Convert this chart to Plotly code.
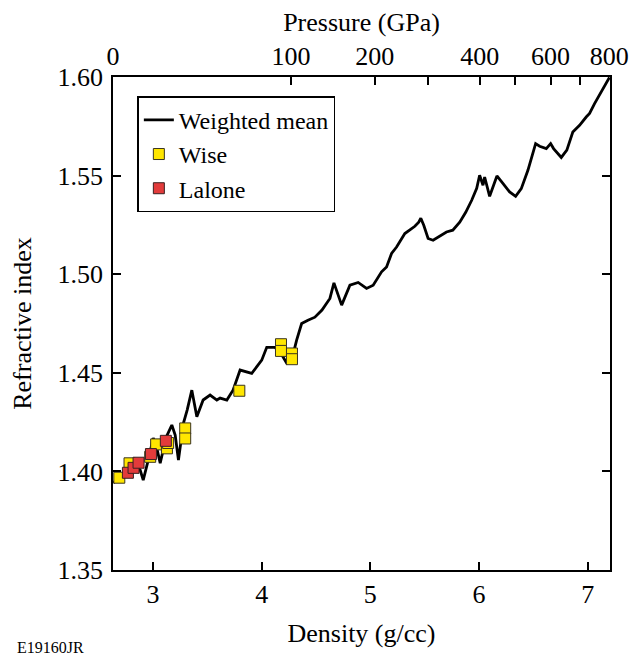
import plotly.graph_objects as go

# Weighted mean curve (density g/cc, refractive index)
mean_density = [2.635, 2.691, 2.773, 2.837, 2.883, 2.911, 2.957, 3.003, 3.030, 3.067,
                3.122, 3.174, 3.205, 3.235, 3.281, 3.315, 3.358, 3.404, 3.462, 3.526,
                3.588, 3.618, 3.680, 3.737, 3.802, 3.863, 3.909, 4.001, 4.047, 4.123,
                4.169, 4.231, 4.276, 4.322, 4.368, 4.426, 4.490, 4.555, 4.628, 4.665,
                4.736, 4.812, 4.888, 4.965, 5.026, 5.103, 5.149, 5.195, 5.241, 5.317,
                5.363, 5.409, 5.445, 5.464, 5.491, 5.531, 5.577, 5.654, 5.700, 5.758,
                5.822, 5.877, 5.932, 5.978, 6.005, 6.036, 6.051, 6.097, 6.164, 6.219,
                6.281, 6.336, 6.388, 6.449, 6.520, 6.557, 6.618, 6.658, 6.685, 6.756,
                6.807, 6.862, 6.924, 6.985, 7.016, 7.062, 7.123, 7.169, 7.199]
mean_index = [1.3941, 1.3971, 1.4007, 1.4032, 1.4007, 1.3956, 1.4057, 1.4169, 1.4133, 1.4042,
              1.4174, 1.4235, 1.4184, 1.4057, 1.4245, 1.4311, 1.4412, 1.4277, 1.4362, 1.4387,
              1.4362, 1.4372, 1.4362, 1.4412, 1.4514, 1.4505, 1.4497, 1.4564, 1.4629, 1.4629,
              1.4606, 1.4548, 1.4564, 1.4666, 1.4750, 1.4767, 1.4782, 1.4818, 1.4877, 1.4956,
              1.4843, 1.4944, 1.4958, 1.4928, 1.4944, 1.5012, 1.5037, 1.5105, 1.5138, 1.5206,
              1.5223, 1.5243, 1.5264, 1.5284, 1.5248, 1.5181, 1.5172, 1.5198, 1.5214, 1.5223,
              1.5264, 1.5314, 1.5375, 1.5436, 1.5502, 1.5451, 1.5493, 1.5395, 1.5498, 1.5460,
              1.5417, 1.5395, 1.5434, 1.5527, 1.5662, 1.5649, 1.5637, 1.5662, 1.5637, 1.5592,
              1.5629, 1.5721, 1.5755, 1.5797, 1.5815, 1.5865, 1.5924, 1.5967, 1.5998]

# Wise data
wise_density = [2.691, 2.785, 2.975, 3.030, 3.129, 3.140, 3.297, 3.297,
                3.795, 4.178, 4.178, 4.279, 4.279]
wise_index = [1.3968, 1.4041, 1.4074, 1.4137, 1.4117, 1.4144, 1.4218, 1.4167,
              1.4409, 1.4645, 1.4611, 1.4598, 1.4569]

# Lalone data
lalone_density = [2.770, 2.822, 2.868, 2.982, 3.119]
lalone_index = [1.3993, 1.4018, 1.4044, 1.4088, 1.4155]

# Top (pressure) axis: density positions of pressure ticks
pressure_tick_density = [2.634, 4.270, 5.041, 5.530, 6.005, 6.326, 6.657, 6.932, 7.198]
pressure_tick_labels = ["0", "100", "200", "", "400", "", "600", "", "800"]

density_ticks = [3, 4, 5, 6, 7]
index_ticks = [1.35, 1.40, 1.45, 1.50, 1.55, 1.60]

x_range = [2.633, 7.204]
y_range = [1.35, 1.60]

FONT = "Liberation Serif"
FS = 26

fig = go.Figure()
fig.add_trace(go.Scatter(x=mean_density, y=mean_index, mode="lines",
                         name="Weighted mean",
                         line=dict(color="black", width=2.8)))
fig.add_trace(go.Scatter(x=wise_density, y=wise_index, mode="markers",
                         name="Wise",
                         marker=dict(symbol="square", size=11, color="#FFE600",
                                     line=dict(color="#3a3420", width=1))))
fig.add_trace(go.Scatter(x=lalone_density, y=lalone_index, mode="markers",
                         name="Lalone",
                         marker=dict(symbol="square", size=11, color="#E23B3B",
                                     line=dict(color="#3a2020", width=1))))
# invisible trace to activate top axis
fig.add_trace(go.Scatter(x=[x_range[0]], y=[y_range[0]], xaxis="x2", mode="markers",
                         marker=dict(opacity=0), showlegend=False, hoverinfo="skip"))

axis_common = dict(showgrid=False, zeroline=False, linecolor="black", linewidth=1.5,
                   ticks="inside", ticklen=8, tickwidth=1.5, tickcolor="black",
                   automargin=False,
                   tickfont=dict(family=FONT, size=FS, color="black"))

# page body has an 8px margin; figure is sized so that it fills the 644x656 window
fig.update_layout(
    width=636, height=648,
    margin=dict(l=105, r=34, t=69, b=86),
    paper_bgcolor="white", plot_bgcolor="white",
    font=dict(family=FONT, size=FS, color="black"),
    xaxis=dict(range=x_range, tickvals=density_ticks, mirror=True, ticklabelstandoff=0,
               title=dict(text="Density (g/cc)", font=dict(family=FONT, size=FS), standoff=16),
               **axis_common),
    xaxis2=dict(range=x_range, overlaying="x", side="top", ticklabelstandoff=0,
                tickvals=pressure_tick_density, ticktext=pressure_tick_labels,
                title=dict(text="Pressure (GPa)", font=dict(family=FONT, size=FS), standoff=24),
                **axis_common),
    yaxis=dict(range=y_range, tickvals=index_ticks, tickformat=".2f", mirror="ticks",
               ticklabelstandoff=3,
               title=dict(text="Refractive index", font=dict(family=FONT, size=FS), standoff=24),
               **axis_common),
    legend=dict(x=0.049, y=0.961, xanchor="left", yanchor="top",
                bgcolor="white", bordercolor="black", borderwidth=1.5,
                font=dict(family=FONT, size=24, color="black"),
                tracegroupgap=0, itemwidth=30),
    showlegend=True,
)

fig.add_annotation(text="E19160JR", xref="paper", yref="paper",
                   x=-0.197, y=-0.158, xanchor="left", yanchor="middle",
                   showarrow=False, font=dict(family=FONT, size=16, color="black"))

fig.write_html("out.html")
